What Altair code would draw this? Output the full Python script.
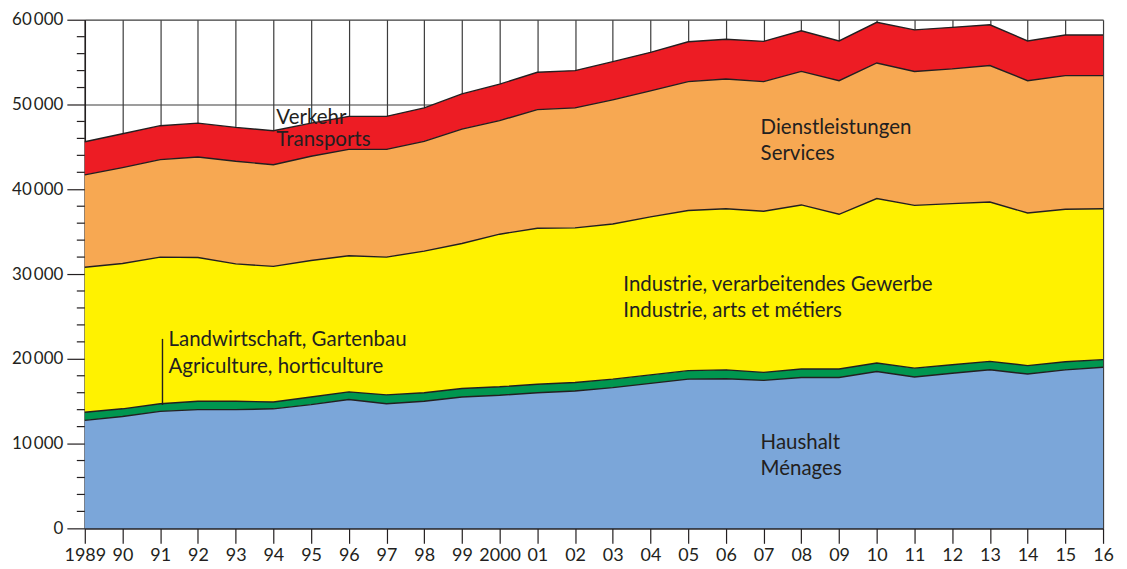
import altair as alt
import pandas as pd

years = list(range(1989, 2017))

haushalt = [12740, 13200, 13800, 14000, 14000, 14100, 14600, 15200, 14700, 15000,
            15500, 15700, 16000, 16200, 16600, 17100, 17600, 17650, 17450, 17800,
            17800, 18500, 17850, 18300, 18700, 18200, 18700, 19000]
landwirtschaft = [960, 900, 900, 1000, 1000, 800, 900, 900, 1050, 1000,
                  1000, 1000, 1000, 1000, 1000, 1000, 1000, 1050, 950, 1000,
                  1000, 1000, 1050, 1000, 1000, 1000, 950, 900]
industrie = [17100, 17150, 17300, 16950, 16200, 16000, 16100, 16050, 16250, 16700,
             17100, 18000, 18400, 18250, 18300, 18650, 18900, 19000, 19000, 19350,
             18250, 19400, 19200, 19000, 18800, 18000, 18000, 17800]
dienstleistungen = [10900, 11300, 11500, 11850, 12100, 12000, 12300, 12550, 12700, 12950,
                    13500, 13400, 14000, 14150, 14650, 14850, 15200, 15300, 15300, 15750,
                    15750, 16000, 15800, 15900, 16100, 15600, 15750, 15700]
verkehr = [3900, 4000, 4000, 4000, 4000, 4000, 3900, 3900, 3900, 3950,
           4150, 4300, 4400, 4400, 4500, 4550, 4700, 4700, 4750, 4800,
           4700, 4800, 4900, 4900, 4800, 4700, 4800, 4800]

sectors = ["Haushalt", "Landwirtschaft", "Industrie", "Dienstleistungen", "Verkehr"]
colors = ["#7ba6d9", "#00964f", "#fff200", "#f7a852", "#ed1c24"]
series = [haushalt, landwirtschaft, industrie, dienstleistungen, verkehr]

major_ticks = list(range(0, 60001, 10000))
minor_ticks = [v for v in range(0, 60001, 2000) if v % 10000 != 0]

rows = []
for i, yr in enumerate(years):
    base = 0
    for name, vals in zip(sectors, series):
        rows.append({"year": yr, "sector": name, "lower": base, "upper": base + vals[i]})
        base += vals[i]
df = pd.DataFrame(rows)

# annotation labels: (text, year position, value position of baseline)
labels = [
    ("Verkehr", 1994.08, 47650),
    ("Transports", 1994.08, 45090),
    ("Dienstleistungen", 2006.92, 46470),
    ("Services", 2006.92, 43490),
    ("Industrie, verarbeitendes Gewerbe", 2003.28, 28000),
    ("Industrie, arts et métiers", 2003.28, 24900),
    ("Landwirtschaft, Gartenbau", 1991.22, 21500),
    ("Agriculture, horticulture", 1991.22, 18350),
    ("Haushalt", 2006.92, 9380),
    ("Ménages", 2006.92, 6350),
]
lab_df = pd.DataFrame(labels, columns=["text", "year", "upper"])
leader = pd.DataFrame([{"year": 1991.06, "upper": 22350, "upper2": 14550}])
minor_df = pd.DataFrame({"upper": minor_ticks})

FONT = "Lato"
INK = "#231f20"
GRID = "#3c3c3c"

x_axis = alt.Axis(
    values=years,
    labelExpr="datum.value === 1989 || datum.value === 2000 ? '' + datum.value : substring('' + datum.value, 2, 4)",
    labelOverlap=False, labelFlush=False,
    title=None, grid=True, gridColor=GRID, gridWidth=1.2,
    tickSize=15, tickColor=INK, tickWidth=1.2,
    domainColor=INK, domainWidth=1.5,
    labelFont=FONT, labelFontSize=18, labelColor=INK, labelPadding=3,
)
y_axis = alt.Axis(
    values=major_ticks,
    labelExpr="datum.value === 0 ? '0' : floor(datum.value / 1000) + '\u2009000'",
    labelFlush=False,
    title=None, grid=True, gridColor=GRID, gridWidth=1.2,
    tickSize=18, tickColor=INK, tickWidth=1.2,
    domainColor=INK, domainWidth=1.5,
    labelFont=FONT, labelFontSize=17, labelColor=INK, labelPadding=4,
)

xs = alt.Scale(domain=[1989, 2016], nice=False, zero=False)
ys = alt.Scale(domain=[0, 60000], nice=False)

X = alt.X("year:Q", scale=xs, axis=x_axis)
Y = alt.Y("upper:Q", scale=ys, axis=y_axis)

areas = alt.Chart(df).mark_area(opacity=1).encode(
    x=X, y=Y, y2="lower:Q",
    color=alt.Color("sector:N", scale=alt.Scale(domain=sectors, range=colors), legend=None),
)

lines = alt.Chart(df).mark_line(color=INK, strokeWidth=1.4).encode(
    x=X, y=Y, detail="sector:N",
)

texts = alt.Chart(lab_df).mark_text(
    align="left", baseline="alphabetic", font=FONT, fontSize=20.5, color=INK
).encode(x=X, y=Y, text="text:N")

lead = alt.Chart(leader).mark_rule(color=INK, strokeWidth=1.4).encode(
    x=X, y=Y, y2="upper2:Q",
)

minor = alt.Chart(minor_df).mark_rule(color=INK, strokeWidth=1.2).encode(
    x=alt.value(-8), x2=alt.value(0), y=Y,
)

chart = alt.layer(areas, lines, lead, minor, texts).properties(
    width=1021, height=510,
    padding={"left": 3, "top": 2, "right": 5, "bottom": 0},
).configure_view(stroke=None)

chart.save("out.html", embed_options={"renderer": "svg", "actions": False})
